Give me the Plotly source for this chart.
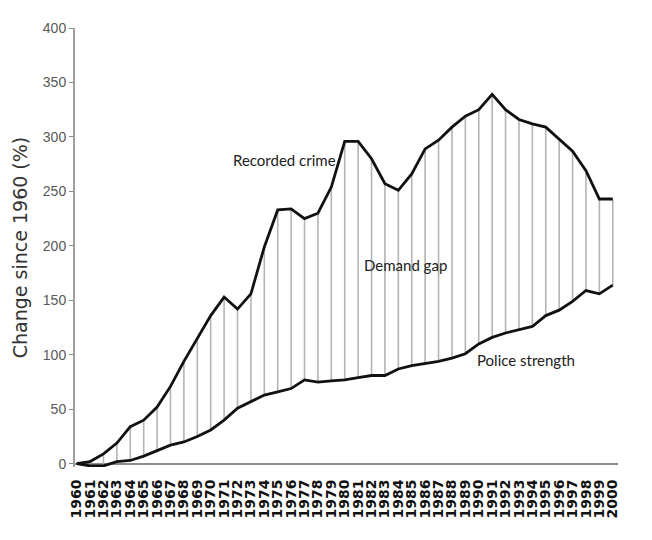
import plotly.graph_objects as go

years = list(range(1960, 2001))
recorded_crime = [0, 2, 9, 19, 34, 40, 52, 71, 94, 115, 136, 153, 142, 156, 199, 233, 234, 225, 230, 254,
                  296, 296, 280, 257, 251, 266, 289, 297, 309, 319, 325, 339, 325, 316, 312, 309, 298, 287,
                  269, 243, 243]
police_strength = [0, -2, -2, 2, 3, 7, 12, 17, 20, 25, 31, 40, 51, 57, 63, 66, 69, 77, 75, 76,
                   77, 79, 81, 81, 87, 90, 92, 94, 97, 101, 110, 116, 120, 123, 126, 136, 141, 149,
                   159, 156, 164]
y_ticks = [0, 50, 100, 150, 200, 250, 300, 350, 400]
labels = ["Recorded crime", "Demand gap", "Police strength"]
label_x = [1975.5, 1984.5, 1993.55]
label_y = [279, 182, 95]

# vertical "demand gap" hatch lines
gx, gy = [], []
for yr, c, p in zip(years, recorded_crime, police_strength):
    gx += [yr, yr, None]
    gy += [p, c, None]

fig = go.Figure()
fig.add_trace(go.Scatter(x=gx, y=gy, mode="lines", line=dict(color="#b4b4b4", width=1.6),
                         hoverinfo="skip", showlegend=False))
fig.add_trace(go.Scatter(x=years, y=recorded_crime, mode="lines", line=dict(color="#111111", width=2.8),
                         name="Recorded crime", showlegend=False))
fig.add_trace(go.Scatter(x=years, y=police_strength, mode="lines", line=dict(color="#111111", width=2.8),
                         name="Police strength", showlegend=False))

for t, ax_, ay_ in zip(labels, label_x, label_y):
    fig.add_annotation(x=ax_, y=ay_, text=t, showarrow=False,
                       font=dict(family="Lato", size=15, color="#222222"))

fig.update_layout(
    width=644, height=532,
    margin=dict(l=59, r=34, t=19, b=73),
    paper_bgcolor="white", plot_bgcolor="white",
    xaxis=dict(range=[1959.875, 2000.39], tickmode="array", tickvals=years,
               ticktext=[str(y) for y in years], tickangle=-90,
               tickfont=dict(family="DejaVu Sans", size=14, color="#111111", weight="bold"),
               showgrid=False, zeroline=False, showline=False,
               ticks="outside", ticklen=6, tickcolor="#ffffff"),
    yaxis=dict(range=[-3, 400], tickvals=y_ticks, showgrid=False,
               zeroline=True, zerolinecolor="#8c8c8c", zerolinewidth=2,
               showline=True, linecolor="#a0a0a0", linewidth=2,
               ticks="outside", ticklen=4, tickcolor="#888888",
               tickfont=dict(family="Liberation Sans", size=14, color="#595959"),
               title=dict(text="Change since 1960 (%)", standoff=10,
                          font=dict(family="DejaVu Sans", size=19, color="#333333"))),
)

fig.write_html("out.html")
